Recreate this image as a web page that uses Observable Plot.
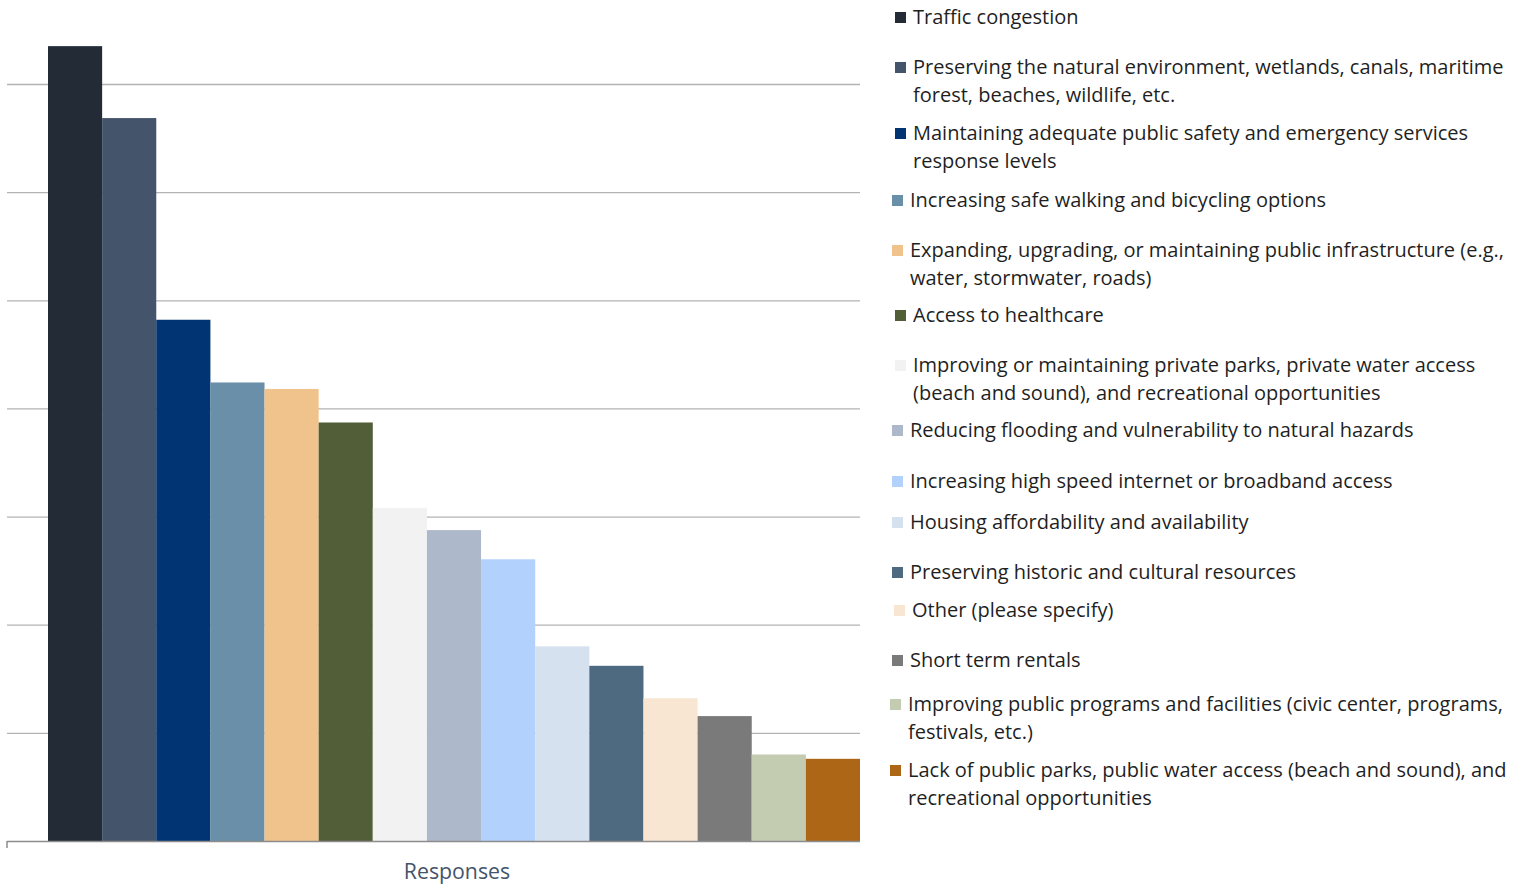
<!DOCTYPE html>
<html>
<head>
<meta charset="utf-8">
<script src="https://cdn.jsdelivr.net/npm/d3@7"></script>
<script src="https://cdn.jsdelivr.net/npm/@observablehq/plot@0.6"></script>
<style>
  html, body { margin: 0; padding: 0; background: #fff; }
  #wrap { position: relative; width: 1516px; height: 886px; overflow: hidden; font-family: "Open Sans", sans-serif; }
  #chart { position: absolute; left: 0; top: 0; }
  .xlabel { position: absolute; left: 48px; width: 818px; top: 856px; text-align: center; font-size: 21.3px; color: #44546a; }
  .item { position: absolute; font-size: 20px; line-height: 27.5px; color: #1f1f1f; white-space: nowrap; }
  .item .sw { position: absolute; left: 0; top: 9px; width: 11px; height: 11px; }
  .item .tx { margin-left: 18px; }
</style>
</head>
<body>
<div id="wrap">
  <div id="chart"></div>
  <div class="xlabel">Responses</div>
</div>
<script>
// Survey responses by community priority
const categories = [
  "Traffic congestion",
  "Preserving the natural environment, wetlands, canals, maritime\nforest, beaches, wildlife, etc.",
  "Maintaining adequate public safety and emergency services\nresponse levels",
  "Increasing safe walking and bicycling options",
  "Expanding, upgrading, or maintaining public infrastructure (e.g.,\nwater, stormwater, roads)",
  "Access to healthcare",
  "Improving or maintaining private parks, private water access\n(beach and sound), and recreational opportunities",
  "Reducing flooding and vulnerability to natural hazards",
  "Increasing high speed internet or broadband access",
  "Housing affordability and availability",
  "Preserving historic and cultural resources",
  "Other (please specify)",
  "Short term rentals",
  "Improving public programs and facilities (civic center, programs,\nfestivals, etc.)",
  "Lack of public parks, public water access (beach and sound), and\nrecreational opportunities"
];
const responses = [147, 133.7, 96.4, 84.8, 83.6, 77.4, 61.6, 57.5, 52.1, 36, 32.4, 26.4, 23.1, 16, 15.2];
const colors = [
  "#232b36", "#44546a", "#003473", "#6a8fa8", "#f0c38c", "#525e38", "#f2f2f2", "#adb9ca",
  "#b3d1fd", "#d5e1ee", "#4d6a80", "#f8e6d2", "#7a7a7a", "#c3ccb0", "#ad6615"
];
const gridValues = [20, 40, 60, 80, 100, 120, 140];

// Legend layout (top of first line, left of swatch)
const legendTop = [3, 53, 119, 186, 236, 301, 351, 416, 467, 508, 558, 596, 646, 690, 756];
const legendLeft = [895, 895, 895, 892, 892, 895, 895, 892, 892, 892, 892, 894, 892, 890, 890];

const rows = categories.map((c, i) => ({ category: c, value: responses[i], color: colors[i] }));

const plot = Plot.plot({
  width: 860,
  height: 886,
  marginTop: 84,
  marginBottom: 45,
  marginLeft: 48,
  marginRight: 0,
  x: { domain: categories, padding: 0, round: false, axis: null },
  y: { domain: [0, 140], nice: false, axis: null },
  marks: [
    Plot.ruleY(gridValues, { stroke: "#b3b3b3", strokeWidth: 1.3, insetLeft: -41 }),
    Plot.barY(rows, { x: "category", y: "value", fill: "color" }),
    Plot.ruleY([0], { stroke: "#8c8c8c", strokeWidth: 1.5, insetLeft: -41 })
  ]
});
plot.style.overflow = "visible";
document.getElementById("chart").appendChild(plot);

// small tick at the left end of the baseline
const svg = d3.select(plot);
const y0 = plot.scale("y").apply(0);
svg.append("line")
  .attr("x1", 7).attr("x2", 7)
  .attr("y1", y0).attr("y2", y0 + 7)
  .attr("stroke", "#8c8c8c").attr("stroke-width", 1.5);

// Legend
const wrap = document.getElementById("wrap");
categories.forEach((c, i) => {
  const el = document.createElement("div");
  el.className = "item";
  el.style.left = legendLeft[i] + "px";
  el.style.top = legendTop[i] + "px";
  const sw = document.createElement("div");
  sw.className = "sw";
  sw.style.background = colors[i];
  el.appendChild(sw);
  const tx = document.createElement("div");
  tx.className = "tx";
  tx.innerHTML = c.split("\n").map(s => s.replace(/&/g, "&amp;").replace(/</g, "&lt;")).join("<br>");
  el.appendChild(tx);
  wrap.appendChild(el);
});
</script>
</body>
</html>
